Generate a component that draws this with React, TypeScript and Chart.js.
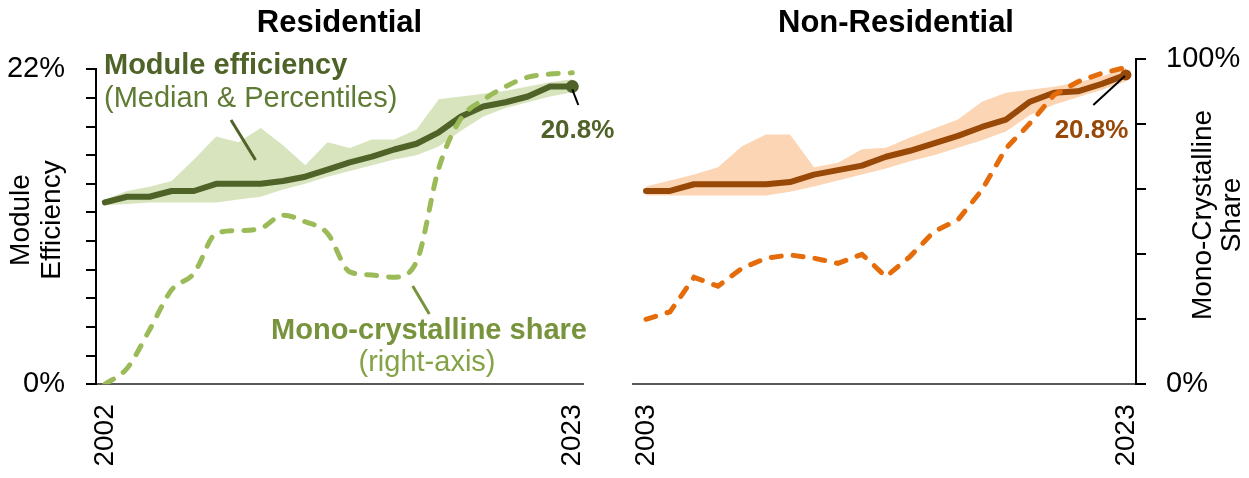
import React, { useEffect, useRef } from "react";
import { Chart, registerables } from "chart.js";

Chart.register(...registerables);

const FONT = '"Liberation Sans", Arial, Helvetica, sans-serif';
Chart.defaults.font.family = FONT;
Chart.defaults.color = "#000";

const W = 1249;
const H = 478;

// ---------- Residential ----------
const resYears = [2002, 2003, 2004, 2005, 2006, 2007, 2008, 2009, 2010, 2011, 2012, 2013, 2014, 2015, 2016, 2017, 2018, 2019, 2020, 2021, 2022, 2023];
const resMedian = [12.7, 13.1, 13.1, 13.5, 13.5, 14.0, 14.0, 14.0, 14.2, 14.5, 15.0, 15.5, 15.9, 16.4, 16.8, 17.6, 18.7, 19.4, 19.7, 20.1, 20.8, 20.8];
const resLow = [12.5, 12.6, 12.7, 12.7, 12.7, 12.7, 12.9, 13.1, 13.6, 14.0, 14.5, 14.9, 15.3, 15.7, 16.0, 16.6, 17.7, 18.7, 19.3, 19.7, 20.1, 20.4];
const resHigh = [12.9, 13.5, 13.8, 14.2, 15.7, 17.3, 16.9, 17.9, 16.7, 15.3, 16.9, 16.5, 17.1, 17.1, 17.8, 19.9, 20.1, 20.3, 20.5, 20.8, 21.1, 21.3];
const resMono = [0, 5.1, 17.2, 30.0, 35.2, 47.9, 48.8, 49.5, 53.7, 51.6, 47.9, 35.7, 34.7, 34.0, 38.9, 68.6, 84.4, 90.3, 94.5, 97.5, 98.5, 98.9];

// ---------- Non-Residential ----------
const nonYears = [2003, 2004, 2005, 2006, 2007, 2008, 2009, 2010, 2011, 2012, 2013, 2014, 2015, 2016, 2017, 2018, 2019, 2020, 2021, 2022, 2023];
const nonMedian = [13.0, 13.0, 13.45, 13.45, 13.45, 13.45, 13.6, 14.1, 14.4, 14.7, 15.3, 15.7, 16.2, 16.7, 17.3, 17.8, 19.0, 19.6, 19.7, 20.2, 20.8];
const nonLow = [12.7, 12.7, 12.7, 12.7, 12.7, 12.7, 12.95, 13.3, 13.7, 14.1, 14.5, 15.0, 15.4, 15.9, 16.4, 17.0, 18.1, 18.8, 19.3, 19.8, 20.35];
const nonHigh = [13.3, 13.7, 14.1, 14.6, 16.0, 16.8, 16.8, 14.6, 14.9, 15.8, 15.9, 16.6, 17.2, 17.8, 19.0, 19.6, 19.8, 20.0, 20.3, 20.7, 21.3];
const nonMono = [20.0, 22.3, 32.9, 30.2, 35.7, 38.8, 39.8, 38.8, 37.2, 40.0, 33.1, 39.3, 47.0, 50.6, 59.8, 72.6, 80.3, 89.0, 93.1, 95.7, 97.5];

// ---------- Text ----------
const titles = ["Residential", "Non-Residential"];
const leftAxisTitle = ["Module", "Efficiency"];
const rightAxisTitle = ["Mono-Crystalline", "Share"];
const effLabel = ["Module efficiency", "(Median & Percentiles)"];
const monoLabel = ["Mono-crystalline share", "(right-axis)"];
const endLabel = "20.8%";
const effTickLabels = [0, 22];
const shareTickLabels = [0, 100];

const pts = (xs: number[], ys: number[]) => xs.map((x, i) => ({ x, y: ys[i] }));

function line(ctx: CanvasRenderingContext2D, x1: number, y1: number, x2: number, y2: number, color: string, w: number) {
  ctx.save();
  ctx.strokeStyle = color;
  ctx.lineWidth = w;
  ctx.beginPath();
  ctx.moveTo(x1, y1);
  ctx.lineTo(x2, y2);
  ctx.stroke();
  ctx.restore();
}

function rotText(ctx: CanvasRenderingContext2D, text: string, x: number, y: number) {
  ctx.save();
  ctx.translate(x, y);
  ctx.rotate(-Math.PI / 2);
  ctx.textAlign = "center";
  ctx.textBaseline = "alphabetic";
  ctx.fillText(text, 0, 0);
  ctx.restore();
}

const zeroPad = (s: any) => {
  s.paddingLeft = 0;
  s.paddingRight = 0;
  s.paddingTop = 0;
  s.paddingBottom = 0;
};

const resAnno = {
  id: "resAnno",
  afterDraw(chart: any) {
    const ctx: CanvasRenderingContext2D = chart.ctx;
    ctx.save();
    ctx.fillStyle = "#000";
    ctx.font = `bold 31px ${FONT}`;
    ctx.textAlign = "center";
    ctx.textBaseline = "alphabetic";
    ctx.fillText(titles[0], 339.5, 31.5);

    ctx.font = `28px ${FONT}`;
    rotText(ctx, leftAxisTitle[0], 28.5, 220);
    rotText(ctx, leftAxisTitle[1], 60, 220);

    ctx.textAlign = "left";
    ctx.fillStyle = "#4F6228";
    ctx.font = `bold 29px ${FONT}`;
    ctx.fillText(effLabel[0], 104, 74);
    ctx.fillStyle = "#5E7A33";
    ctx.font = `29px ${FONT}`;
    ctx.fillText(effLabel[1], 104, 106.5);
    line(ctx, 231, 120, 255.5, 160, "#4F6228", 3);

    ctx.textAlign = "center";
    ctx.fillStyle = "#77933C";
    ctx.font = `bold 29px ${FONT}`;
    ctx.fillText(monoLabel[0], 429, 339);
    ctx.fillStyle = "#84A346";
    ctx.font = `29px ${FONT}`;
    ctx.fillText(monoLabel[1], 427, 371);
    line(ctx, 412.7, 286, 429.3, 314, "#77933C", 3);

    const xs = chart.scales.x;
    const ys = chart.scales.eff;
    const n = resYears.length - 1;
    const px = xs.getPixelForValue(resYears[n]);
    const py = ys.getPixelForValue(resMedian[n]);
    line(ctx, px, py + 3, 578.3, 105, "#000", 2);
    ctx.fillStyle = "#4F6228";
    ctx.font = `bold 26px ${FONT}`;
    ctx.fillText(endLabel, 577.5, 138.3);
    ctx.restore();
  },
};

const nonAnno = {
  id: "nonAnno",
  afterDraw(chart: any) {
    const ctx: CanvasRenderingContext2D = chart.ctx;
    ctx.save();
    ctx.fillStyle = "#000";
    ctx.font = `bold 31px ${FONT}`;
    ctx.textAlign = "center";
    ctx.textBaseline = "alphabetic";
    ctx.fillText(titles[1], 896, 31.5);

    ctx.font = `28px ${FONT}`;
    rotText(ctx, rightAxisTitle[0], 1211, 215);
    rotText(ctx, rightAxisTitle[1], 1240, 215);

    const xs = chart.scales.x;
    const ys = chart.scales.eff;
    const n = nonYears.length - 1;
    const px = xs.getPixelForValue(nonYears[n]);
    const py = ys.getPixelForValue(nonMedian[n]);
    line(ctx, px - 1, py + 1, 1093.3, 105, "#000", 2);
    ctx.fillStyle = "#984807";
    ctx.font = `bold 26px ${FONT}`;
    ctx.textAlign = "center";
    ctx.fillText(endLabel, 1091.5, 138.3);
    ctx.restore();
  },
};

function resConfig(): any {
  const n = resYears.length - 1;
  return {
    type: "line",
    data: {
      datasets: [
        { label: "P low", data: pts(resYears, resLow), borderWidth: 0, pointRadius: 0, fill: false, yAxisID: "eff", order: 4 },
        { label: "P high", data: pts(resYears, resHigh), borderWidth: 0, pointRadius: 0, fill: "-1", backgroundColor: "#D7E4BD", yAxisID: "eff", order: 3 },
        {
          label: "Median",
          data: pts(resYears, resMedian),
          borderColor: "#4F6228",
          borderWidth: 6,
          borderJoinStyle: "round",
          borderCapStyle: "round",
          pointRadius: resMedian.map((_, i) => (i === n ? 6.5 : 0)),
          pointBackgroundColor: "#4F6228",
          pointBorderWidth: 0,
          fill: false,
          yAxisID: "eff",
          order: 2,
        },
        {
          label: "Mono share",
          data: pts(resYears, resMono),
          borderColor: "#9BBB59",
          borderWidth: 5,
          borderDash: [10, 12],
          borderCapStyle: "round",
          cubicInterpolationMode: "monotone",
          pointRadius: 0,
          fill: false,
          yAxisID: "share",
          order: 1,
        },
      ],
    },
    options: {
      responsive: false,
      animation: false,
      devicePixelRatio: 1,
      events: [],
      layout: { padding: { left: 0, top: 69.3, right: W - 583, bottom: 0 } },
      plugins: { legend: { display: false }, tooltip: { enabled: false }, title: { display: false } },
      scales: {
        x: {
          type: "linear",
          min: 2001.6,
          max: 2023.48,
          afterBuildTicks: (s: any) => {
            s.ticks = [{ value: resYears[0] }, { value: resYears[n] }];
          },
          afterFit: (s: any) => {
            s.height = H - 384.3;
            zeroPad(s);
          },
          grid: { display: false, drawTicks: false },
          border: { display: true, color: "#595959", width: 2 },
          ticks: { autoSkip: false, maxRotation: 90, minRotation: 90, padding: 20, color: "#000", font: { size: 28 }, callback: (v: number) => String(v) },
        },
        eff: {
          type: "linear",
          position: "left",
          min: 0,
          max: 22,
          afterFit: (s: any) => {
            s.width = 96;
            zeroPad(s);
          },
          grid: { display: true, drawOnChartArea: false, drawTicks: true, tickLength: 10, color: "#000", lineWidth: 2 },
          border: { display: true, color: "#000", width: 2 },
          ticks: {
            stepSize: 2,
            autoSkip: false,
            padding: 21,
            color: "#000",
            font: { size: 29 },
            callback: (v: number) => (effTickLabels.includes(v) ? `${v}%` : ""),
          },
        },
        share: { type: "linear", position: "right", display: false, min: 0, max: 100 },
      },
    },
    plugins: [resAnno],
  };
}

function nonConfig(): any {
  const n = nonYears.length - 1;
  return {
    type: "line",
    data: {
      datasets: [
        { label: "P low", data: pts(nonYears, nonLow), borderWidth: 0, pointRadius: 0, fill: false, yAxisID: "eff", order: 4 },
        { label: "P high", data: pts(nonYears, nonHigh), borderWidth: 0, pointRadius: 0, fill: "-1", backgroundColor: "#FCD5B5", yAxisID: "eff", order: 3 },
        {
          label: "Median",
          data: pts(nonYears, nonMedian),
          borderColor: "#984807",
          borderWidth: 6,
          borderJoinStyle: "round",
          borderCapStyle: "round",
          pointRadius: nonMedian.map((_, i) => (i === n ? 5.5 : 0)),
          pointBackgroundColor: "#984807",
          pointBorderWidth: 0,
          fill: false,
          yAxisID: "eff",
          order: 2,
        },
        {
          label: "Mono share",
          data: pts(nonYears, nonMono),
          borderColor: "#E46C0A",
          borderWidth: 5,
          borderDash: [10, 12],
          borderCapStyle: "round",
          pointRadius: 0,
          fill: false,
          yAxisID: "share",
          order: 1,
        },
      ],
    },
    options: {
      responsive: false,
      animation: false,
      devicePixelRatio: 1,
      events: [],
      layout: { padding: { left: 633.3, top: 59.3, right: 0, bottom: 0 } },
      plugins: { legend: { display: false }, tooltip: { enabled: false }, title: { display: false } },
      scales: {
        x: {
          type: "linear",
          min: 2002.47,
          max: 2023.42,
          afterBuildTicks: (s: any) => {
            s.ticks = [{ value: nonYears[0] }, { value: nonYears[n] }];
          },
          afterFit: (s: any) => {
            s.height = H - 384.3;
            zeroPad(s);
          },
          grid: { display: false, drawTicks: false },
          border: { display: true, color: "#595959", width: 2 },
          ticks: { autoSkip: false, maxRotation: 90, minRotation: 90, padding: 20, color: "#000", font: { size: 28 }, callback: (v: number) => String(v) },
        },
        eff: { type: "linear", position: "left", display: false, min: 0, max: 21.85 },
        share: {
          type: "linear",
          position: "right",
          min: 0,
          max: 100,
          afterFit: (s: any) => {
            s.width = W - 1136;
            zeroPad(s);
          },
          grid: { display: true, drawOnChartArea: false, drawTicks: true, tickLength: 10, color: "#000", lineWidth: 2 },
          border: { display: true, color: "#000", width: 2 },
          ticks: {
            stepSize: 20,
            autoSkip: false,
            padding: 20,
            color: "#000",
            font: { size: 29 },
            callback: (v: number) => (shareTickLabels.includes(v) ? `${v}%` : ""),
          },
        },
      },
    },
    plugins: [nonAnno],
  };
}

function ChartCanvas({ make }: { make: () => any }) {
  const ref = useRef<HTMLCanvasElement>(null);
  useEffect(() => {
    const chart = new Chart(ref.current as HTMLCanvasElement, make());
    return () => chart.destroy();
  }, []);
  return <canvas ref={ref} width={W} height={H} style={{ position: "absolute", left: 0, top: 0, width: W, height: H }} />;
}

export default function App() {
  return (
    <div style={{ position: "fixed", left: 0, top: 0, width: W, height: H, background: "#fff", overflow: "hidden" }}>
      <ChartCanvas make={resConfig} />
      <ChartCanvas make={nonConfig} />
    </div>
  );
}
